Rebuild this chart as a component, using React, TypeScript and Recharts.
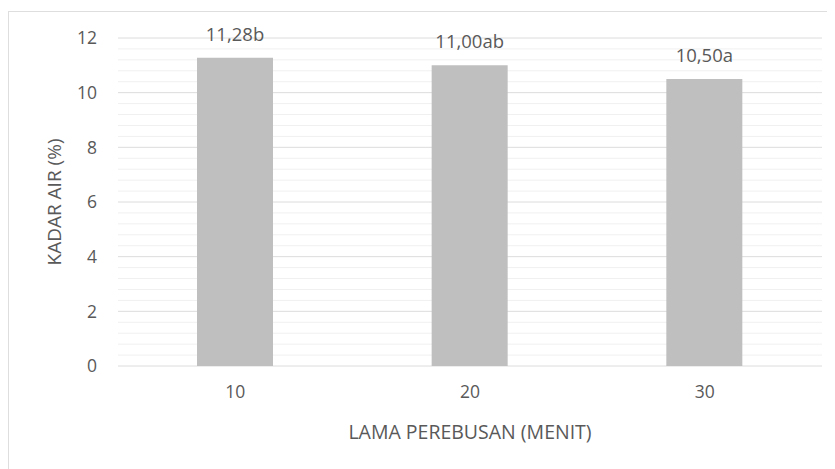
import React from 'react';
import { BarChart, Bar, XAxis, YAxis, CartesianGrid, LabelList, Label } from 'recharts';

const categories = ['10', '20', '30'];
const kadarAir = [11.28, 11.0, 10.5];
const notations = ['11,28b', '11,00ab', '10,50a'];
const yTicks = [0, 2, 4, 6, 8, 10, 12];
const minorLines = [0.4, 0.8, 1.2, 1.6, 2.4, 2.8, 3.2, 3.6, 4.4, 4.8, 5.2, 5.6, 6.4, 6.8, 7.2, 7.6, 8.4, 8.8, 9.2, 9.6, 10.4, 10.8, 11.2, 11.6];

const data = categories.map((c, i) => ({ name: c, value: kadarAir[i], label: notations[i] }));

const FONT = '"Open Sans", "Noto Sans", sans-serif';
const TEXT = '#595959';

export default function App() {
  return (
    <div
      style={{
        marginTop: 3,
        width: 826,
        height: 457,
        borderLeft: '1px solid #dedede',
        borderTop: '1px solid #dedede',
        background: '#fff',
        fontFamily: FONT,
      }}
    >
      <BarChart
        width={826}
        height={457}
        data={data}
        margin={{ top: 26, right: 13, bottom: 0, left: 0 }}
        barCategoryGap={0}
      >
        {/* minor gridlines first, major on top */}
        <CartesianGrid
          vertical={false}
          stroke="#f0f0f0"
          horizontalValues={minorLines}
        />
        <CartesianGrid vertical={false} stroke="#dcdcdc" />
        <XAxis
          dataKey="name"
          axisLine={false}
          tickLine={false}
          tickSize={0}
          tickMargin={20}
          height={103}
          tick={{ fill: TEXT, fontSize: 17.5, fontFamily: FONT }}
        >
          <Label
            content={({ viewBox }: any) => (
              <text
                x={viewBox.x + viewBox.width / 2}
                y={viewBox.y + 73}
                textAnchor="middle"
                fill={TEXT}
                fontSize={19.5}
                fontFamily={FONT}
              >
                LAMA PEREBUSAN (MENIT)
              </text>
            )}
          />
        </XAxis>
        <YAxis
          domain={[0, 12]}
          ticks={yTicks}
          interval={0}
          axisLine={false}
          tickLine={false}
          tickSize={0}
          tickMargin={21}
          width={109}
          tick={{ fill: TEXT, fontSize: 17.5, fontFamily: FONT }}
        >
          <Label
            content={({ viewBox }: any) => {
              const cx = viewBox.x + 45;
              const cy = viewBox.y + viewBox.height / 2;
              return (
                <text
                  x={cx}
                  y={cy}
                  transform={`rotate(-90 ${cx} ${cy})`}
                  textAnchor="middle"
                  dominantBaseline="central"
                  fill={TEXT}
                  fontSize={19}
                  fontFamily={FONT}
                >
                  KADAR AIR (%)
                </text>
              );
            }}
          />
        </YAxis>
        <Bar dataKey="value" fill="#bfbfbf" barSize={76} isAnimationActive={false}>
          <LabelList
            dataKey="label"
            position="top"
            offset={17}
            fill={TEXT}
            fontSize={18.5}
            fontFamily={FONT}
          />
        </Bar>
      </BarChart>
    </div>
  );
}
